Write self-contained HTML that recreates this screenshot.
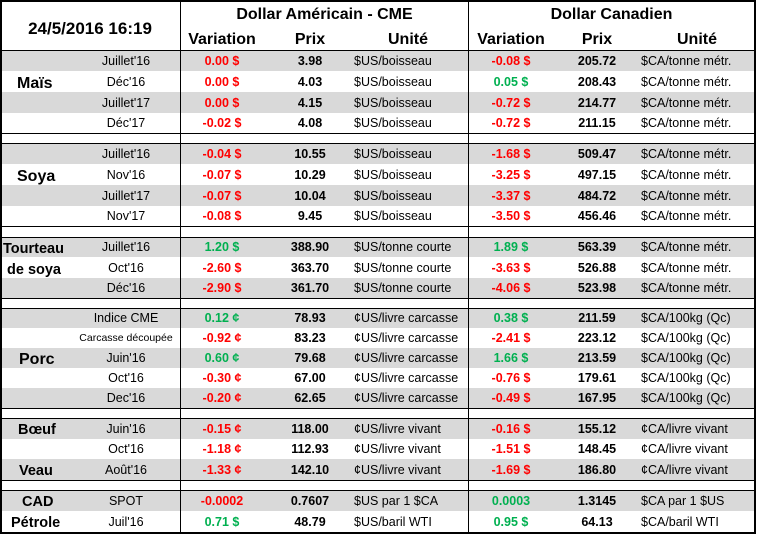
<!DOCTYPE html>
<html><head><meta charset="utf-8">
<style>
body{margin:0;background:#fff;}
#t{position:relative;width:757px;height:535px;overflow:hidden;font-family:"Liberation Sans",Arial,sans-serif;color:#000;}
.c{position:absolute;white-space:nowrap;font-size:12.5px;line-height:14px;}
.b{font-weight:bold;}
.hl{position:absolute;background:#000;}
.bg{position:absolute;background:#d9d9d9;}
.red{color:#ff0000;font-weight:bold;}
.grn{color:#00b050;font-weight:bold;}
</style></head>
<body>
<div id="t">
  <div class="c b" style="left:0;width:180px;text-align:center;top:19px;font-size:17px;line-height:20px">24/5/2016 16:19</div>
  <div class="c b" style="left:181px;width:287px;text-align:center;top:5px;font-size:16px;line-height:20px">Dollar Américain - CME</div>
  <div class="c b" style="left:469px;width:285px;text-align:center;top:5px;font-size:16px;line-height:20px">Dollar Canadien</div>
  <div class="c b" style="left:172px;width:100px;text-align:center;top:30px;font-size:16px;line-height:20px">Variation</div>
  <div class="c b" style="left:260px;width:100px;text-align:center;top:30px;font-size:16px;line-height:20px">Prix</div>
  <div class="c b" style="left:358px;width:100px;text-align:center;top:30px;font-size:16px;line-height:20px">Unité</div>
  <div class="c b" style="left:461px;width:100px;text-align:center;top:30px;font-size:16px;line-height:20px">Variation</div>
  <div class="c b" style="left:547px;width:100px;text-align:center;top:30px;font-size:16px;line-height:20px">Prix</div>
  <div class="c b" style="left:647px;width:100px;text-align:center;top:30px;font-size:16px;line-height:20px">Unité</div>
</div>
<script>
const rowTops=[51,71,92,113, 144,164,185,206, 237,257,278, 308,328,348,368,388, 418,439,459, 490,511];
const rowH=[20,21,21,20, 20,21,21,20, 20,21,20, 20,20,20,20,20, 21,20,21, 21,21];
const contracts=["Juillet'16","Déc'16","Juillet'17","Déc'17","Juillet'16","Nov'16","Juillet'17","Nov'17","Juillet'16","Oct'16","Déc'16","Indice CME","Carcasse découpée","Juin'16","Oct'16","Dec'16","Juin'16","Oct'16","Août'16","SPOT","Juil'16"];
const usdVar=["0.00 $","0.00 $","0.00 $","-0.02 $","-0.04 $","-0.07 $","-0.07 $","-0.08 $","1.20 $","-2.60 $","-2.90 $","0.12 ¢","-0.92 ¢","0.60 ¢","-0.30 ¢","-0.20 ¢","-0.15 ¢","-1.18 ¢","-1.33 ¢","-0.0002","0.71 $"];
const usdVarColor=["r","r","r","r","r","r","r","r","g","r","r","g","r","g","r","r","r","r","r","r","g"];
const usdPrix=["3.98","4.03","4.15","4.08","10.55","10.29","10.04","9.45","388.90","363.70","361.70","78.93","83.23","79.68","67.00","62.65","118.00","112.93","142.10","0.7607","48.79"];
const usdUnit=["$US/boisseau","$US/boisseau","$US/boisseau","$US/boisseau","$US/boisseau","$US/boisseau","$US/boisseau","$US/boisseau","$US/tonne courte","$US/tonne courte","$US/tonne courte","¢US/livre carcasse","¢US/livre carcasse","¢US/livre carcasse","¢US/livre carcasse","¢US/livre carcasse","¢US/livre vivant","¢US/livre vivant","¢US/livre vivant","$US par 1 $CA","$US/baril WTI"];
const cadVar=["-0.08 $","0.05 $","-0.72 $","-0.72 $","-1.68 $","-3.25 $","-3.37 $","-3.50 $","1.89 $","-3.63 $","-4.06 $","0.38 $","-2.41 $","1.66 $","-0.76 $","-0.49 $","-0.16 $","-1.51 $","-1.69 $","0.0003","0.95 $"];
const cadVarColor=["r","g","r","r","r","r","r","r","g","r","r","g","r","g","r","r","r","r","r","g","g"];
const cadPrix=["205.72","208.43","214.77","211.15","509.47","497.15","484.72","456.46","563.39","526.88","523.98","211.59","223.12","213.59","179.61","167.95","155.12","148.45","186.80","1.3145","64.13"];
const cadUnit=["$CA/tonne métr.","$CA/tonne métr.","$CA/tonne métr.","$CA/tonne métr.","$CA/tonne métr.","$CA/tonne métr.","$CA/tonne métr.","$CA/tonne métr.","$CA/tonne métr.","$CA/tonne métr.","$CA/tonne métr.","$CA/100kg (Qc)","$CA/100kg (Qc)","$CA/100kg (Qc)","$CA/100kg (Qc)","$CA/100kg (Qc)","¢CA/livre vivant","¢CA/livre vivant","¢CA/livre vivant","$CA par 1 $US","$CA/baril WTI"];
const grayRows=[0,2,4,6,8,10,11,13,15,16,18,19];
const products=["Maïs","Soya","Tourteau","de soya","Porc","Bœuf","Veau","CAD","Pétrole"];
const productTop=[75,168,240,261,351,421,462,493,514];
const productLeft=[17,17,3,7,19,18,19,22,11];
const hLines=[0,50,133,143,226,237,298,308,408,418,480,490,532];

const T=document.getElementById('t');
function add(cls,style,text){const d=document.createElement('div');d.className=cls;d.style.cssText=style;if(text!==undefined)d.textContent=text;T.appendChild(d);return d;}
grayRows.forEach(i=>{
  const g=add('bg',`left:0;top:${rowTops[i]}px;width:755px;height:${rowH[i]}px`);
  
  
  T.insertBefore(g,T.firstChild);
});
hLines.forEach((y,i)=>{
  const h=(i===0||i===hLines.length-1)?2:1;
  const l=add('hl',`left:0;top:${y}px;width:756px;height:${h}px`);
  
  
});
[[0,2],[180,1],[468,1],[754,2]].forEach(v=>{
  const l=add('hl',`left:${v[0]}px;top:0;width:${v[1]}px;height:534px`);
  
  
});
rowTops.forEach((top,i)=>{
  const ty=top+Math.round((rowH[i]-14)/2);
  const small=i===12?'font-size:10.5px;':'';
  const c=add('c',`left:66px;width:120px;text-align:center;top:${ty}px;${small}`,contracts[i]);
  
  
  const uv=add('c '+(usdVarColor[i]==='g'?'grn':'red'),`left:172px;width:100px;text-align:center;top:${ty}px`,usdVar[i]);
  
  
  const up=add('c b',`left:260px;width:100px;text-align:center;top:${ty}px`,usdPrix[i]);
  
  
  const uu=add('c',`left:354px;top:${ty}px`,usdUnit[i]);
  
  
  const cv=add('c '+(cadVarColor[i]==='g'?'grn':'red'),`left:461px;width:100px;text-align:center;top:${ty}px`,cadVar[i]);
  
  
  const cp=add('c b',`left:547px;width:100px;text-align:center;top:${ty}px`,cadPrix[i]);
  
  
  const cu=add('c',`left:641px;top:${ty}px`,cadUnit[i]);
  
  
});
products.forEach((p,i)=>{
  const big=i<2||i===4;
  const d=add('c b',`left:${productLeft[i]}px;top:${productTop[i]}px;font-size:${big?16:14.5}px;line-height:18px`,p);
  
  
});
</script>
</body></html>
